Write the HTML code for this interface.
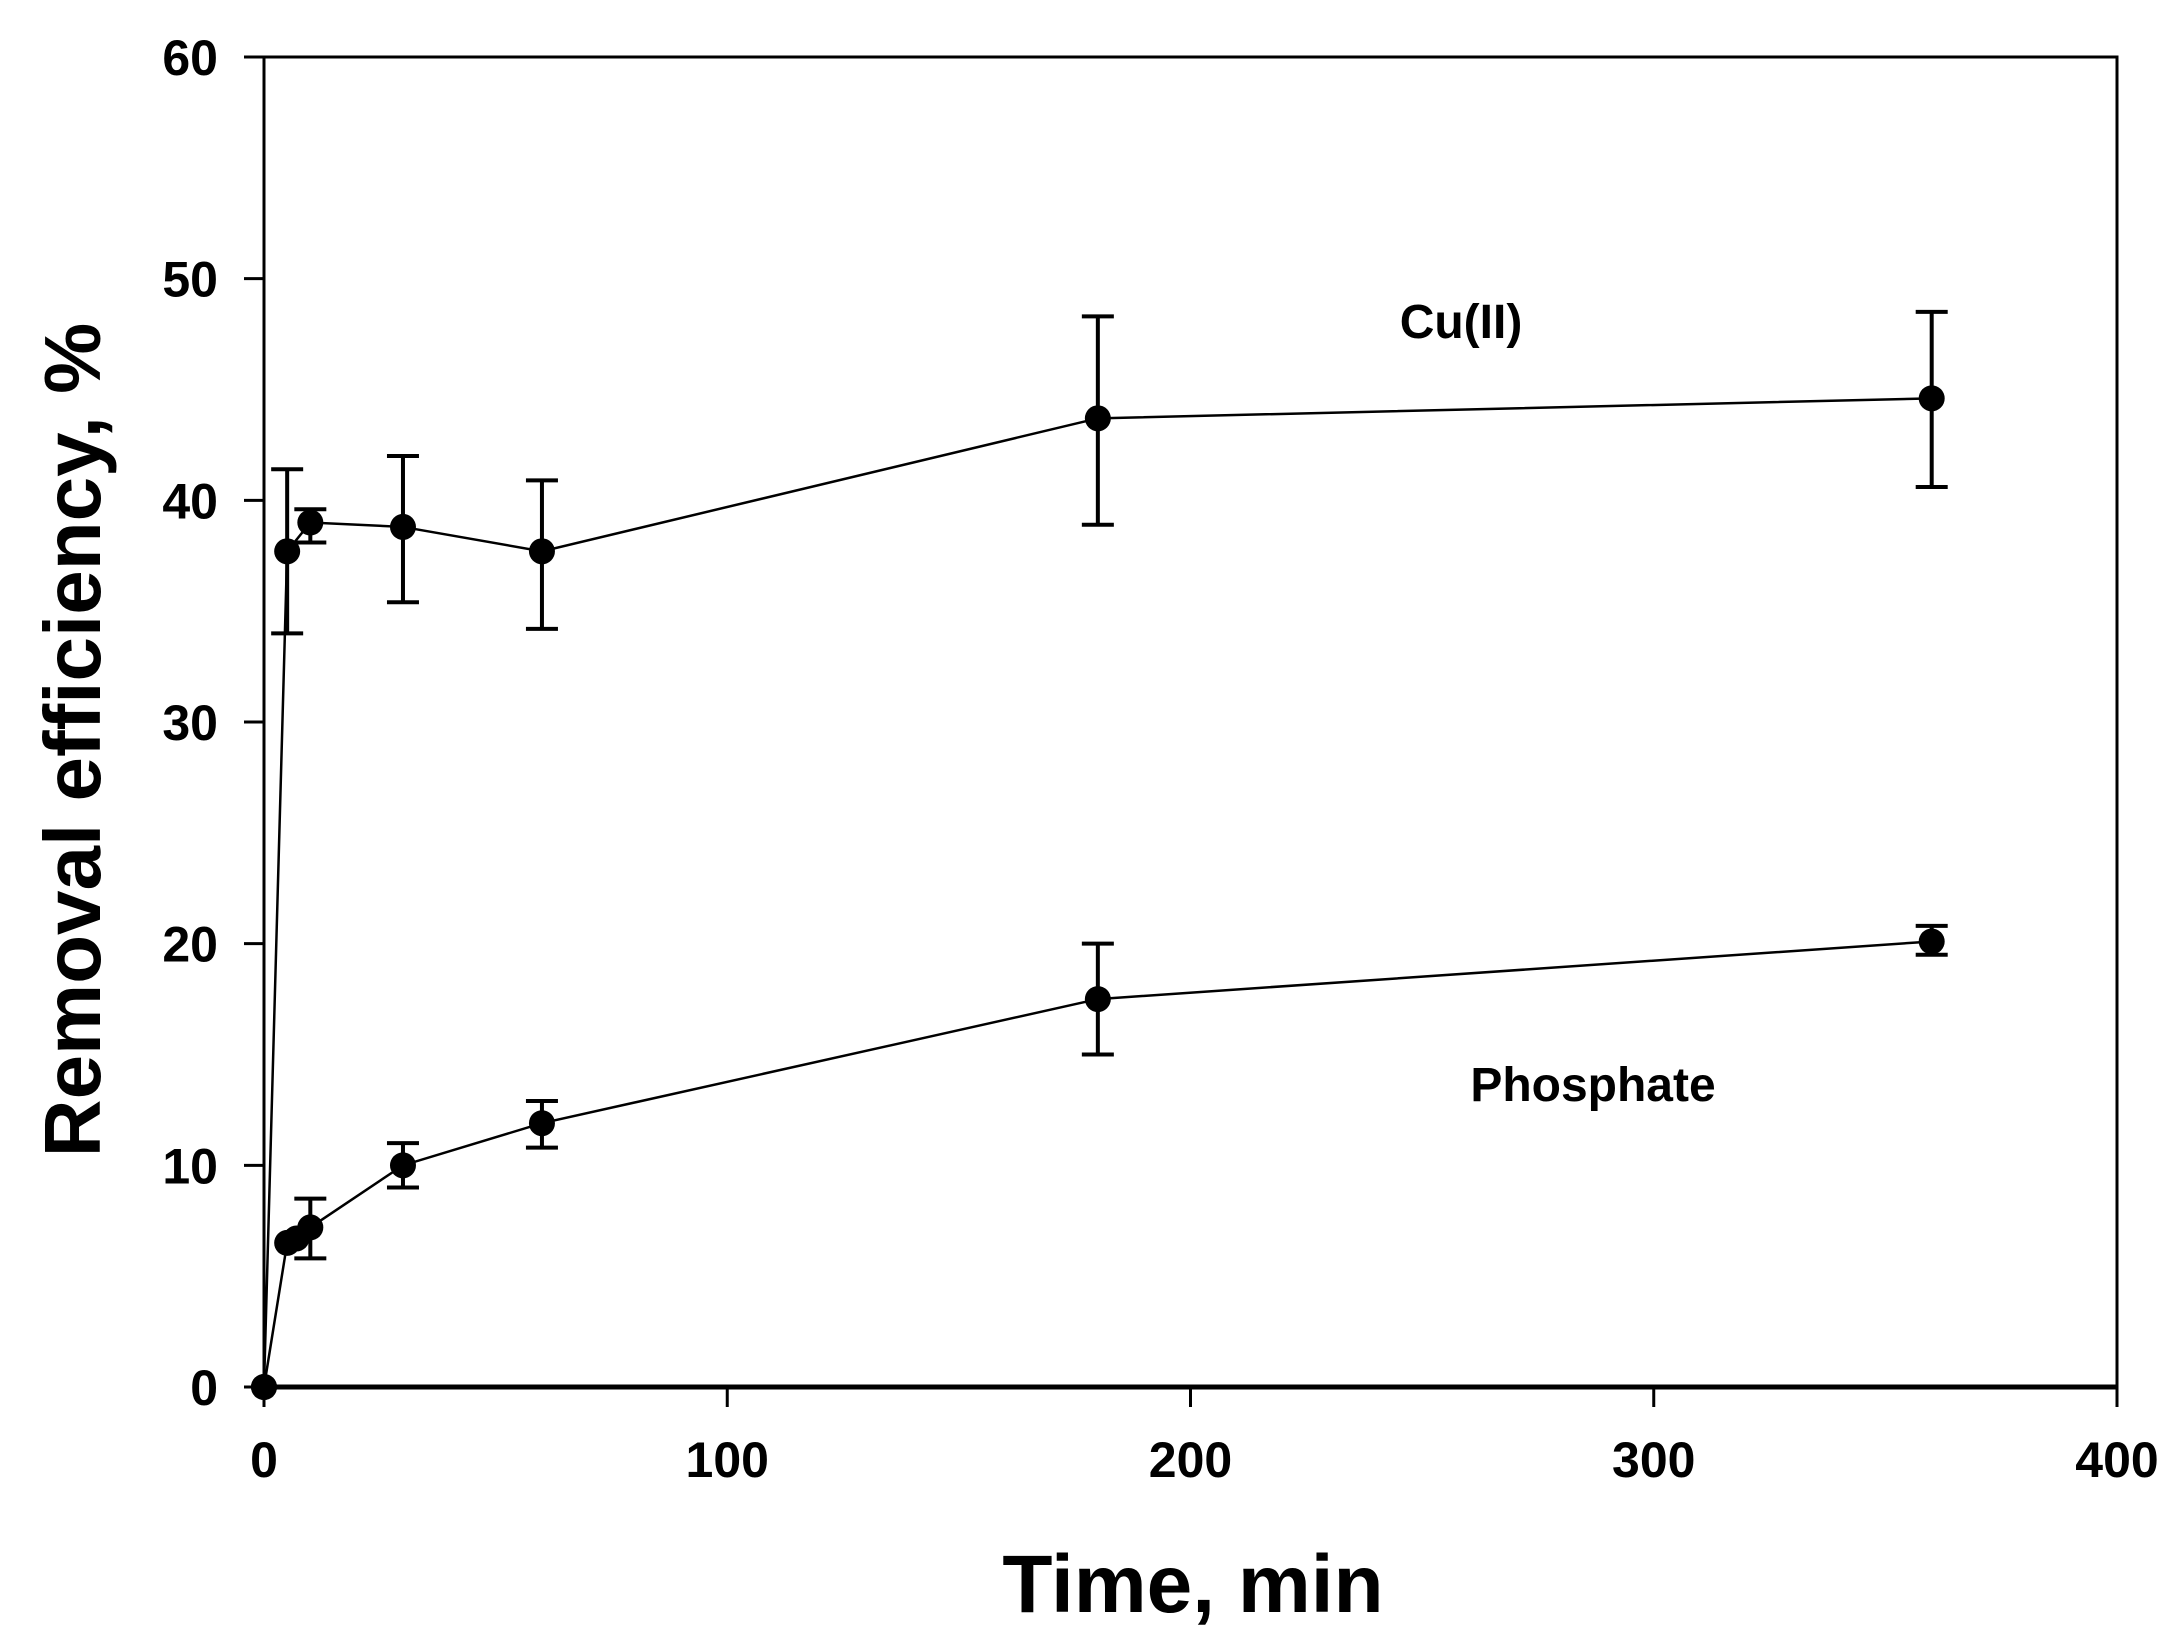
<!DOCTYPE html>
<html><head><meta charset="utf-8"><style>
html,body{margin:0;padding:0;background:#fff;}
svg text{font-family:"Liberation Sans",Arial,sans-serif;font-weight:bold;fill:#000;}
</style></head><body>
<svg id="chart" width="2174" height="1636" viewBox="0 0 2174 1636" xmlns="http://www.w3.org/2000/svg">
<g id="axes"></g><g id="series"></g>
<text x="0" y="0" font-size="80" text-anchor="middle" transform="translate(100,740) rotate(-90)">Removal efficiency, %</text>
<text x="1193" y="1612" font-size="82" text-anchor="middle">Time, min</text>
<text x="1461" y="338" font-size="48" text-anchor="middle">Cu(II)</text>
<text x="1593" y="1101" font-size="48" text-anchor="middle">Phosphate</text>
</svg>
<script>
const xTicks=[0,100,200,300,400];
const yTicks=[0,10,20,30,40,50,60];
const cuTime=[0,5,10,30,60,180,360];
const cuVal=[0,37.7,39,38.8,37.7,43.7,44.6];
const cuLo=[0,34,38.1,35.4,34.2,38.9,40.6];
const cuHi=[0,41.4,39.6,42,40.9,48.3,48.5];
const phTime=[0,5,7,10,30,60,180,360];
const phVal=[0,6.5,6.7,7.2,10,11.9,17.5,20.1];
const phLo=[0,6.5,6.7,5.8,9,10.8,15,19.5];
const phHi=[0,6.5,6.7,8.5,11,12.9,20,20.8];
const X0=264,X1=2117,Y0=1387,Y1=57;
const sx=v=>X0+(v-0)/(400-0)*(X1-X0);
const sy=v=>Y0-(v-0)/(60-0)*(Y0-Y1);
const NS="http://www.w3.org/2000/svg";
function mk(tag,attrs,parent){const e=document.createElementNS(NS,tag);for(const k in attrs)e.setAttribute(k,attrs[k]);parent.appendChild(e);return e;}
const axes=document.getElementById('axes'),ser=document.getElementById('series');
const frame=mk('rect',{x:X0,y:Y1,width:X1-X0,height:Y0-Y1,fill:'none',stroke:'#000','stroke-width':3},axes);


const xb=mk('line',{x1:X0,y1:Y0,x2:X1,y2:Y0,stroke:'#000','stroke-width':5},axes);


xTicks.forEach(t=>{
 const l=mk('line',{x1:sx(t),y1:Y0,x2:sx(t),y2:Y0+20,stroke:'#000','stroke-width':3},axes);
 
 
 const tx=mk('text',{x:sx(t),y:1477,'font-size':50,'text-anchor':'middle'},axes);tx.textContent=t;
 
 
});
yTicks.forEach(t=>{
 const l=mk('line',{x1:X0-20,y1:sy(t),x2:X0,y2:sy(t),stroke:'#000','stroke-width':3},axes);
 
 
 const tx=mk('text',{x:218,y:sy(t)+18,'font-size':50,'text-anchor':'end'},axes);tx.textContent=t;
 
 
});
function series(name,T,V,L,H){
 const g=mk('g',{},ser);
 
 
 const p=mk('polyline',{points:T.map((t,i)=>sx(t)+','+sy(V[i])).join(' '),fill:'none',stroke:'#000','stroke-width':2.5},g);
 
 
 T.forEach((t,i)=>{
  if(H[i]-L[i]>0.05){
   const x=sx(t);
   const e=mk('path',{d:`M${x},${sy(L[i])}V${sy(H[i])}M${x-16},${sy(L[i])}H${x+16}M${x-16},${sy(H[i])}H${x+16}`,stroke:'#000','stroke-width':4,fill:'none'},g);
   
   
  }
  const c=mk('circle',{cx:sx(t),cy:sy(V[i]),r:13,fill:'#000'},g);
  
  
 });
}
series('cu',cuTime,cuVal,cuLo,cuHi);
series('phosphate',phTime,phVal,phLo,phHi);
</script>
</body></html>
